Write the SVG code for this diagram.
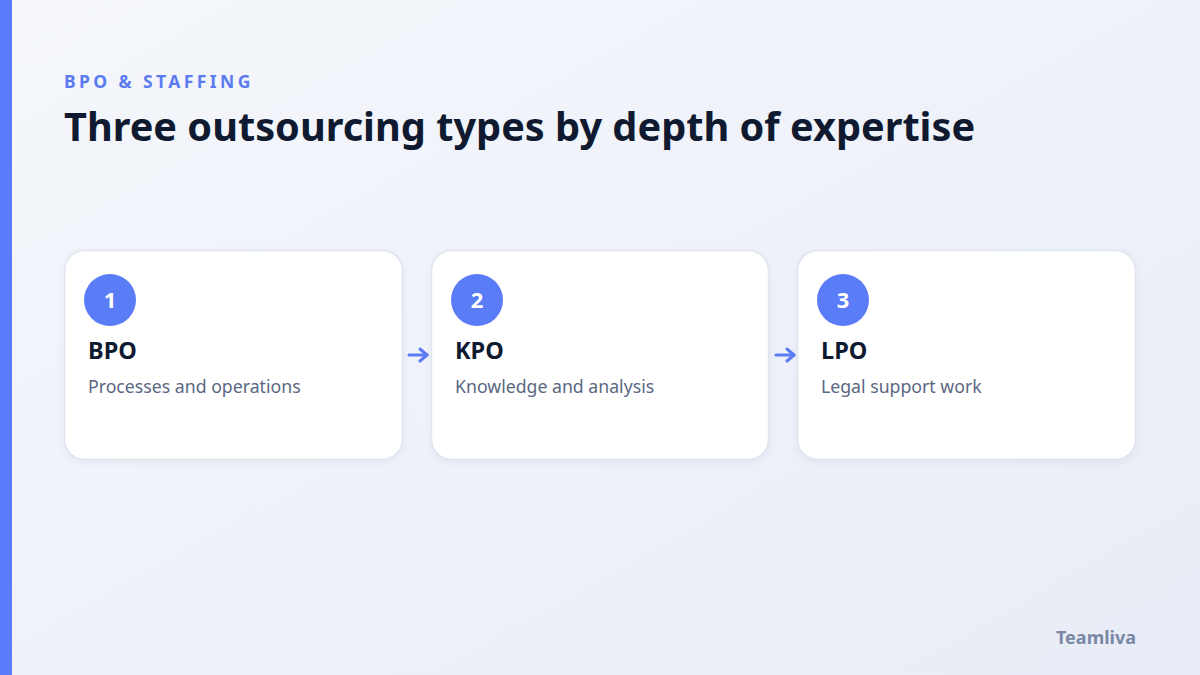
<svg xmlns="http://www.w3.org/2000/svg" width="1200" height="675" viewBox="0 0 1200 675">
<defs>
<linearGradient id="bg" x1="0" y1="0" x2="1" y2="1">
<stop offset="0" stop-color="#f5f7fc"/>
<stop offset="1" stop-color="#e8ecf6"/>
</linearGradient>
<marker id="ah" viewBox="0 0 14 16" refX="11" refY="8" markerWidth="14" markerHeight="16" markerUnits="userSpaceOnUse" orient="auto">
<path d="M4,2 L11,8 L4,14" fill="none" stroke="#5b7cf5" stroke-width="3" stroke-linecap="round" stroke-linejoin="round"/>
</marker>
<filter id="sh" x="-10%" y="-10%" width="120%" height="130%">
<feDropShadow dx="0" dy="2" stdDeviation="3" flood-color="#1e2a50" flood-opacity="0.05"/>
</filter>
</defs>
<style>
.card{fill:#ffffff;stroke:#dfe4ef;stroke-width:1.5;}
.num-c{fill:#5b7cf7;}
.num{font-family:"Noto Sans","Open Sans",sans-serif;font-weight:700;font-size:22px;fill:#ffffff;text-anchor:middle;}
.ttl{font-family:"Noto Sans","Open Sans",sans-serif;font-weight:700;font-size:23.5px;fill:#0f1a30;}
.sub{font-family:"Noto Sans","Open Sans",sans-serif;font-size:17.7px;fill:#5a6782;}
</style>
<rect width="1200" height="675" fill="url(#bg)"/>
<rect x="0" y="0" width="12" height="675" fill="#5b7cfa"/>
<text x="64" y="88" font-family="Noto Sans, Open Sans, sans-serif" font-weight="700" font-size="17.5" letter-spacing="3.4" fill="#5b7cf0">BPO &amp; STAFFING</text>
<text x="64" y="141" font-family="Noto Sans, Open Sans, sans-serif" font-weight="700" font-size="39.7" fill="#0f1a30">Three outsourcing types by depth of expertise</text>
<g id="node-bpo">
<rect class="card" x="64.5" y="250.5" width="338" height="209" rx="20" filter="url(#sh)"/>
<circle class="num-c" cx="110" cy="300" r="26"/>
<text class="num" x="110" y="308">1</text>
<text class="ttl" x="88" y="359">BPO</text>
<text class="sub" x="88" y="392.5">Processes and operations</text>
</g>
<g id="node-kpo">
<rect class="card" x="431.5" y="250.5" width="337" height="209" rx="20" filter="url(#sh)"/>
<circle class="num-c" cx="477" cy="300" r="26"/>
<text class="num" x="477" y="308">2</text>
<text class="ttl" x="455" y="359">KPO</text>
<text class="sub" x="455" y="392.5">Knowledge and analysis</text>
</g>
<g id="node-lpo">
<rect class="card" x="797.5" y="250.5" width="338" height="209" rx="20" filter="url(#sh)"/>
<circle class="num-c" cx="843" cy="300" r="26"/>
<text class="num" x="843" y="308">3</text>
<text class="ttl" x="821" y="359">LPO</text>
<text class="sub" x="821" y="392.5">Legal support work</text>
</g>
<g id="connectors">
<line x1="409" y1="355" x2="427" y2="355" stroke="#5b7cf5" stroke-width="3" stroke-linecap="round" marker-end="url(#ah)"/>
<line x1="776" y1="355" x2="794" y2="355" stroke="#5b7cf5" stroke-width="3" stroke-linecap="round" marker-end="url(#ah)"/>
</g>
<text x="1136" y="644" text-anchor="end" font-family="Noto Sans, Open Sans, sans-serif" font-weight="700" font-size="18" fill="#7a88a6">Teamliva</text>
</svg>
